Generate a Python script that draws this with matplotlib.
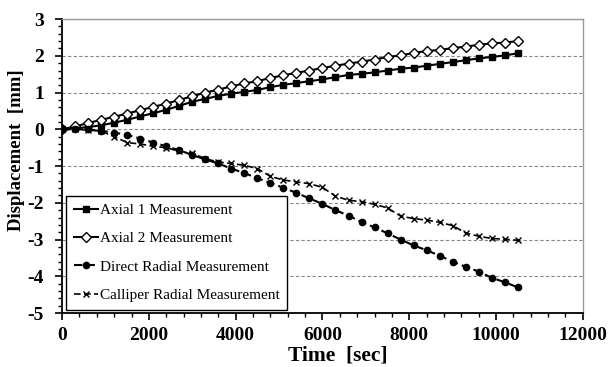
import numpy as np
import matplotlib
matplotlib.use("Agg")
import matplotlib.pyplot as plt
from matplotlib.ticker import MultipleLocator

# =====================================================
# DATA
# =====================================================

time_sec = np.arange(0, 10501, 300)

axial_1 = [0.0, 0.03, 0.06, 0.11, 0.18, 0.26, 0.35, 0.44, 0.53, 0.64,
           0.75, 0.83, 0.91, 0.97, 1.02, 1.07, 1.15, 1.21, 1.26, 1.31,
           1.36, 1.42, 1.48, 1.51, 1.55, 1.60, 1.65, 1.68, 1.73, 1.78,
           1.83, 1.88, 1.93, 1.97, 2.01, 2.07]

axial_2 = [0.0, 0.08, 0.17, 0.26, 0.34, 0.43, 0.52, 0.61, 0.70, 0.80,
           0.90, 1.00, 1.08, 1.17, 1.25, 1.31, 1.40, 1.47, 1.54, 1.60,
           1.67, 1.73, 1.79, 1.84, 1.90, 1.97, 2.01, 2.08, 2.13, 2.16,
           2.21, 2.25, 2.30, 2.34, 2.36, 2.40]

direct_radial = [0.0, 0.0, 0.0, -0.04, -0.09, -0.15, -0.25, -0.36, -0.46, -0.57,
                 -0.70, -0.82, -0.93, -1.07, -1.19, -1.33, -1.46, -1.59, -1.73, -1.88,
                 -2.03, -2.20, -2.35, -2.52, -2.67, -2.83, -3.00, -3.16, -3.29, -3.44,
                 -3.60, -3.74, -3.87, -4.04, -4.16, -4.30]

calliper_radial = [0.0, 0.0, -0.02, -0.05, -0.20, -0.36, -0.40, -0.46, -0.50, -0.60,
                   -0.65, -0.80, -0.89, -0.93, -0.98, -1.07, -1.28, -1.38, -1.43, -1.48,
                   -1.58, -1.82, -1.93, -1.97, -2.04, -2.14, -2.36, -2.43, -2.47, -2.53,
                   -2.62, -2.82, -2.91, -2.97, -2.99, -3.02]

# =====================================================
# PLOT
# =====================================================

plt.rcParams["font.family"] = ["Liberation Serif", "DejaVu Serif"]
plt.rcParams["axes.unicode_minus"] = False

fig = plt.figure(figsize=(6.09, 3.67), dpi=100)
ax = fig.add_axes([0.102, 0.147, 0.855, 0.801])

ax.plot(time_sec, axial_1, color="black", lw=1.5, marker="s", ms=5,
        label="Axial 1 Measurement")
ax.plot(time_sec, axial_2, color="black", lw=1.5, marker="D", ms=5.5,
        mfc="white", mec="black", mew=1.0, label="Axial 2 Measurement")
ax.plot(time_sec, direct_radial, color="black", lw=1.5, ls=(0, (4, 2)),
        marker="o", ms=4.5, label="Direct Radial Measurement")
ax.plot(time_sec, calliper_radial, color="black", lw=1.2, ls=(0, (4, 2)),
        marker="x", ms=5, mew=1.0, label="Calliper Radial Measurement")

ax.set_xlim(0, 12000)
ax.set_ylim(-5, 3)
ax.xaxis.set_major_locator(MultipleLocator(2000))
ax.xaxis.set_minor_locator(MultipleLocator(400))
ax.yaxis.set_major_locator(MultipleLocator(1))
ax.yaxis.set_minor_locator(MultipleLocator(0.2))

ax.grid(axis="y", which="major", color="#888888", ls=(0, (3, 2)), lw=0.8)

ax.tick_params(axis="both", which="major", direction="out", length=5,
               width=1.2, labelsize=14)
ax.tick_params(axis="y", which="major", pad=8)
ax.tick_params(axis="x", which="major", pad=5)
ax.tick_params(axis="both", which="minor", direction="out", length=3,
               width=1.0)
for lbl in ax.get_xticklabels() + ax.get_yticklabels():
    lbl.set_fontweight("bold")

for side in ["left", "bottom"]:
    ax.spines[side].set_color("black")
    ax.spines[side].set_linewidth(1.3)
for side in ["right", "top"]:
    ax.spines[side].set_color("#999999")
    ax.spines[side].set_linewidth(1.0)

ax.set_xlabel("Time  [sec]", fontsize=15.5, fontweight="bold")
ax.xaxis.set_label_coords(0.53, -0.112)
ax.set_ylabel("Displacement  [mm]", fontsize=13.5, fontweight="bold")
ax.yaxis.set_label_coords(-0.071, 0.554)

leg = ax.legend(loc="lower left", bbox_to_anchor=(0.008, 0.012),
                fontsize=11, frameon=True, fancybox=False, framealpha=1,
                edgecolor="black", labelspacing=0.95, handlelength=1.6,
                handletextpad=0.1, borderpad=0.5, borderaxespad=0)
leg.get_frame().set_linewidth(1.0)

plt.savefig("out.png", dpi=100)
